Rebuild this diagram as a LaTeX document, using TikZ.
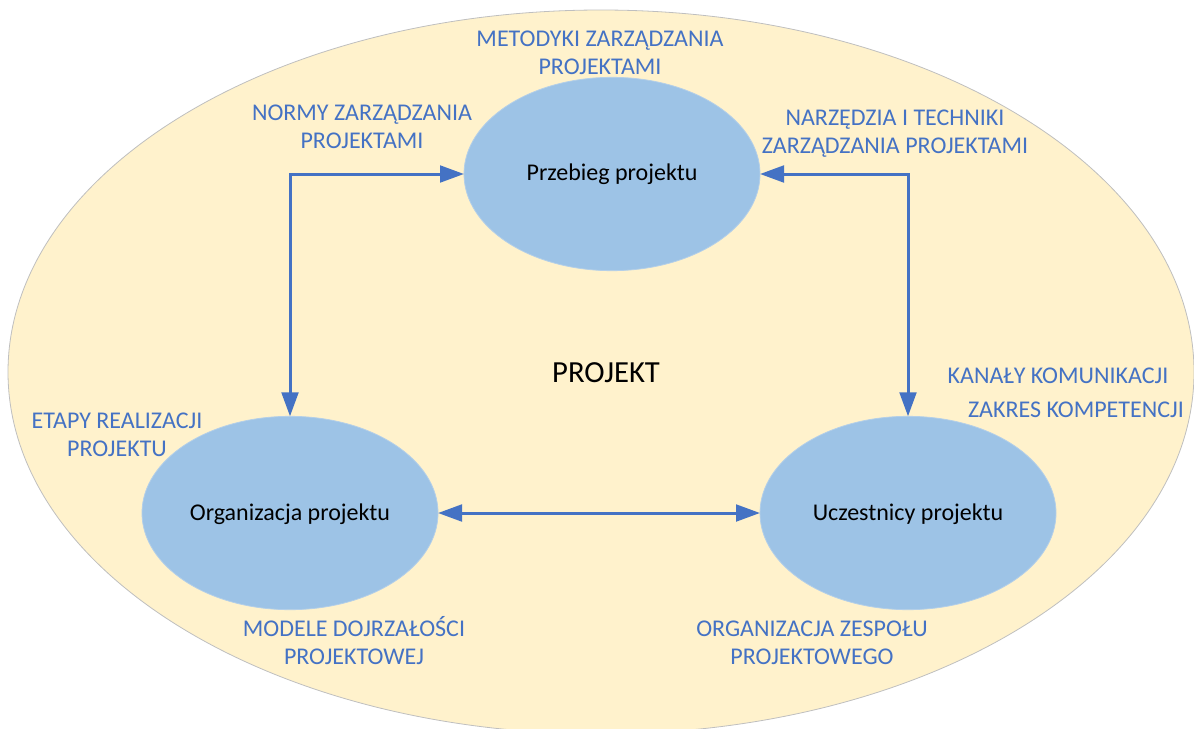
\documentclass[tikz,border=0pt]{standalone}
\usepackage{fontspec}
\setmainfont{Carlito}
\usetikzlibrary{shapes.geometric,arrows.meta}
\definecolor{outerfill}{HTML}{FFF2CC}
\definecolor{outerdraw}{HTML}{BFBFBF}
\definecolor{innerfill}{HTML}{9DC3E6}
\definecolor{innerdraw}{HTML}{B4CFE8}
\definecolor{labelblue}{HTML}{4472C4}
\tikzset{
  bigoval/.style={ellipse, fill=outerfill, draw=outerdraw, line width=0.6pt, outer sep=0pt, inner sep=0pt},
  oval/.style={ellipse, fill=innerfill, draw=innerdraw, line width=0.6pt, outer sep=0pt, inner sep=0pt,
    minimum width=222pt, minimum height=145pt},
  ovaltext/.style={anchor=base, inner sep=0pt, font=\fontsize{18}{22}\selectfont},
  lbl/.style={text=labelblue, align=center, anchor=base, inner sep=0pt,
    font=\fontsize{18}{21}\selectfont},
  conn/.style={draw=labelblue, line width=2.25pt,
    {Triangle[length=18pt,width=12.5pt]}-{Triangle[length=18pt,width=12.5pt]}},
}
\begin{document}
\begin{tikzpicture}[x=0.75pt,y=-0.75pt]
\useasboundingbox (0,0) rectangle (1194,728);
\node[bigoval, minimum width=889.5pt, minimum height=543pt] (outer) at (601,372) {};
\node[oval] (przebieg) at (612,174) {};
\node[oval] (org) at (290,513) {};
\node[oval] (ucz) at (908,513) {};
\node[ovaltext] (tp) at (612,180) {Przebieg projektu};
\node[ovaltext] (to) at (290,520) {Organizacja projektu};
\node[ovaltext] (tu) at (908,520) {Uczestnicy projektu};
\node[anchor=base, inner sep=0pt, font=\fontsize{23}{27}\selectfont] (proj) at (606,382) {PROJEKT};
\draw[conn] (org.north) |- (przebieg.west);
\draw[conn] (ucz.north) |- (przebieg.east);
\draw[conn] (org.east) -- (ucz.west);
\node[lbl] (l1) at (600,74) {METODYKI ZARZĄDZANIA\\PROJEKTAMI};
\node[lbl] (l2) at (362,148) {NORMY ZARZĄDZANIA\\PROJEKTAMI};
\node[lbl] (l3) at (895,153) {NARZĘDZIA I TECHNIKI\\ZARZĄDZANIA PROJEKTAMI};
\node[lbl] (l4) at (1058,383) {KANAŁY KOMUNIKACJI};
\node[lbl] (l5) at (1076,417) {ZAKRES KOMPETENCJI};
\node[lbl] (l6) at (117,456) {ETAPY REALIZACJI\\PROJEKTU};
\node[lbl] (l7) at (354,664) {MODELE DOJRZAŁOŚCI\\PROJEKTOWEJ};
\node[lbl] (l8) at (812,664) {ORGANIZACJA ZESPOŁU\\PROJEKTOWEGO};
\end{tikzpicture}
\end{document}
